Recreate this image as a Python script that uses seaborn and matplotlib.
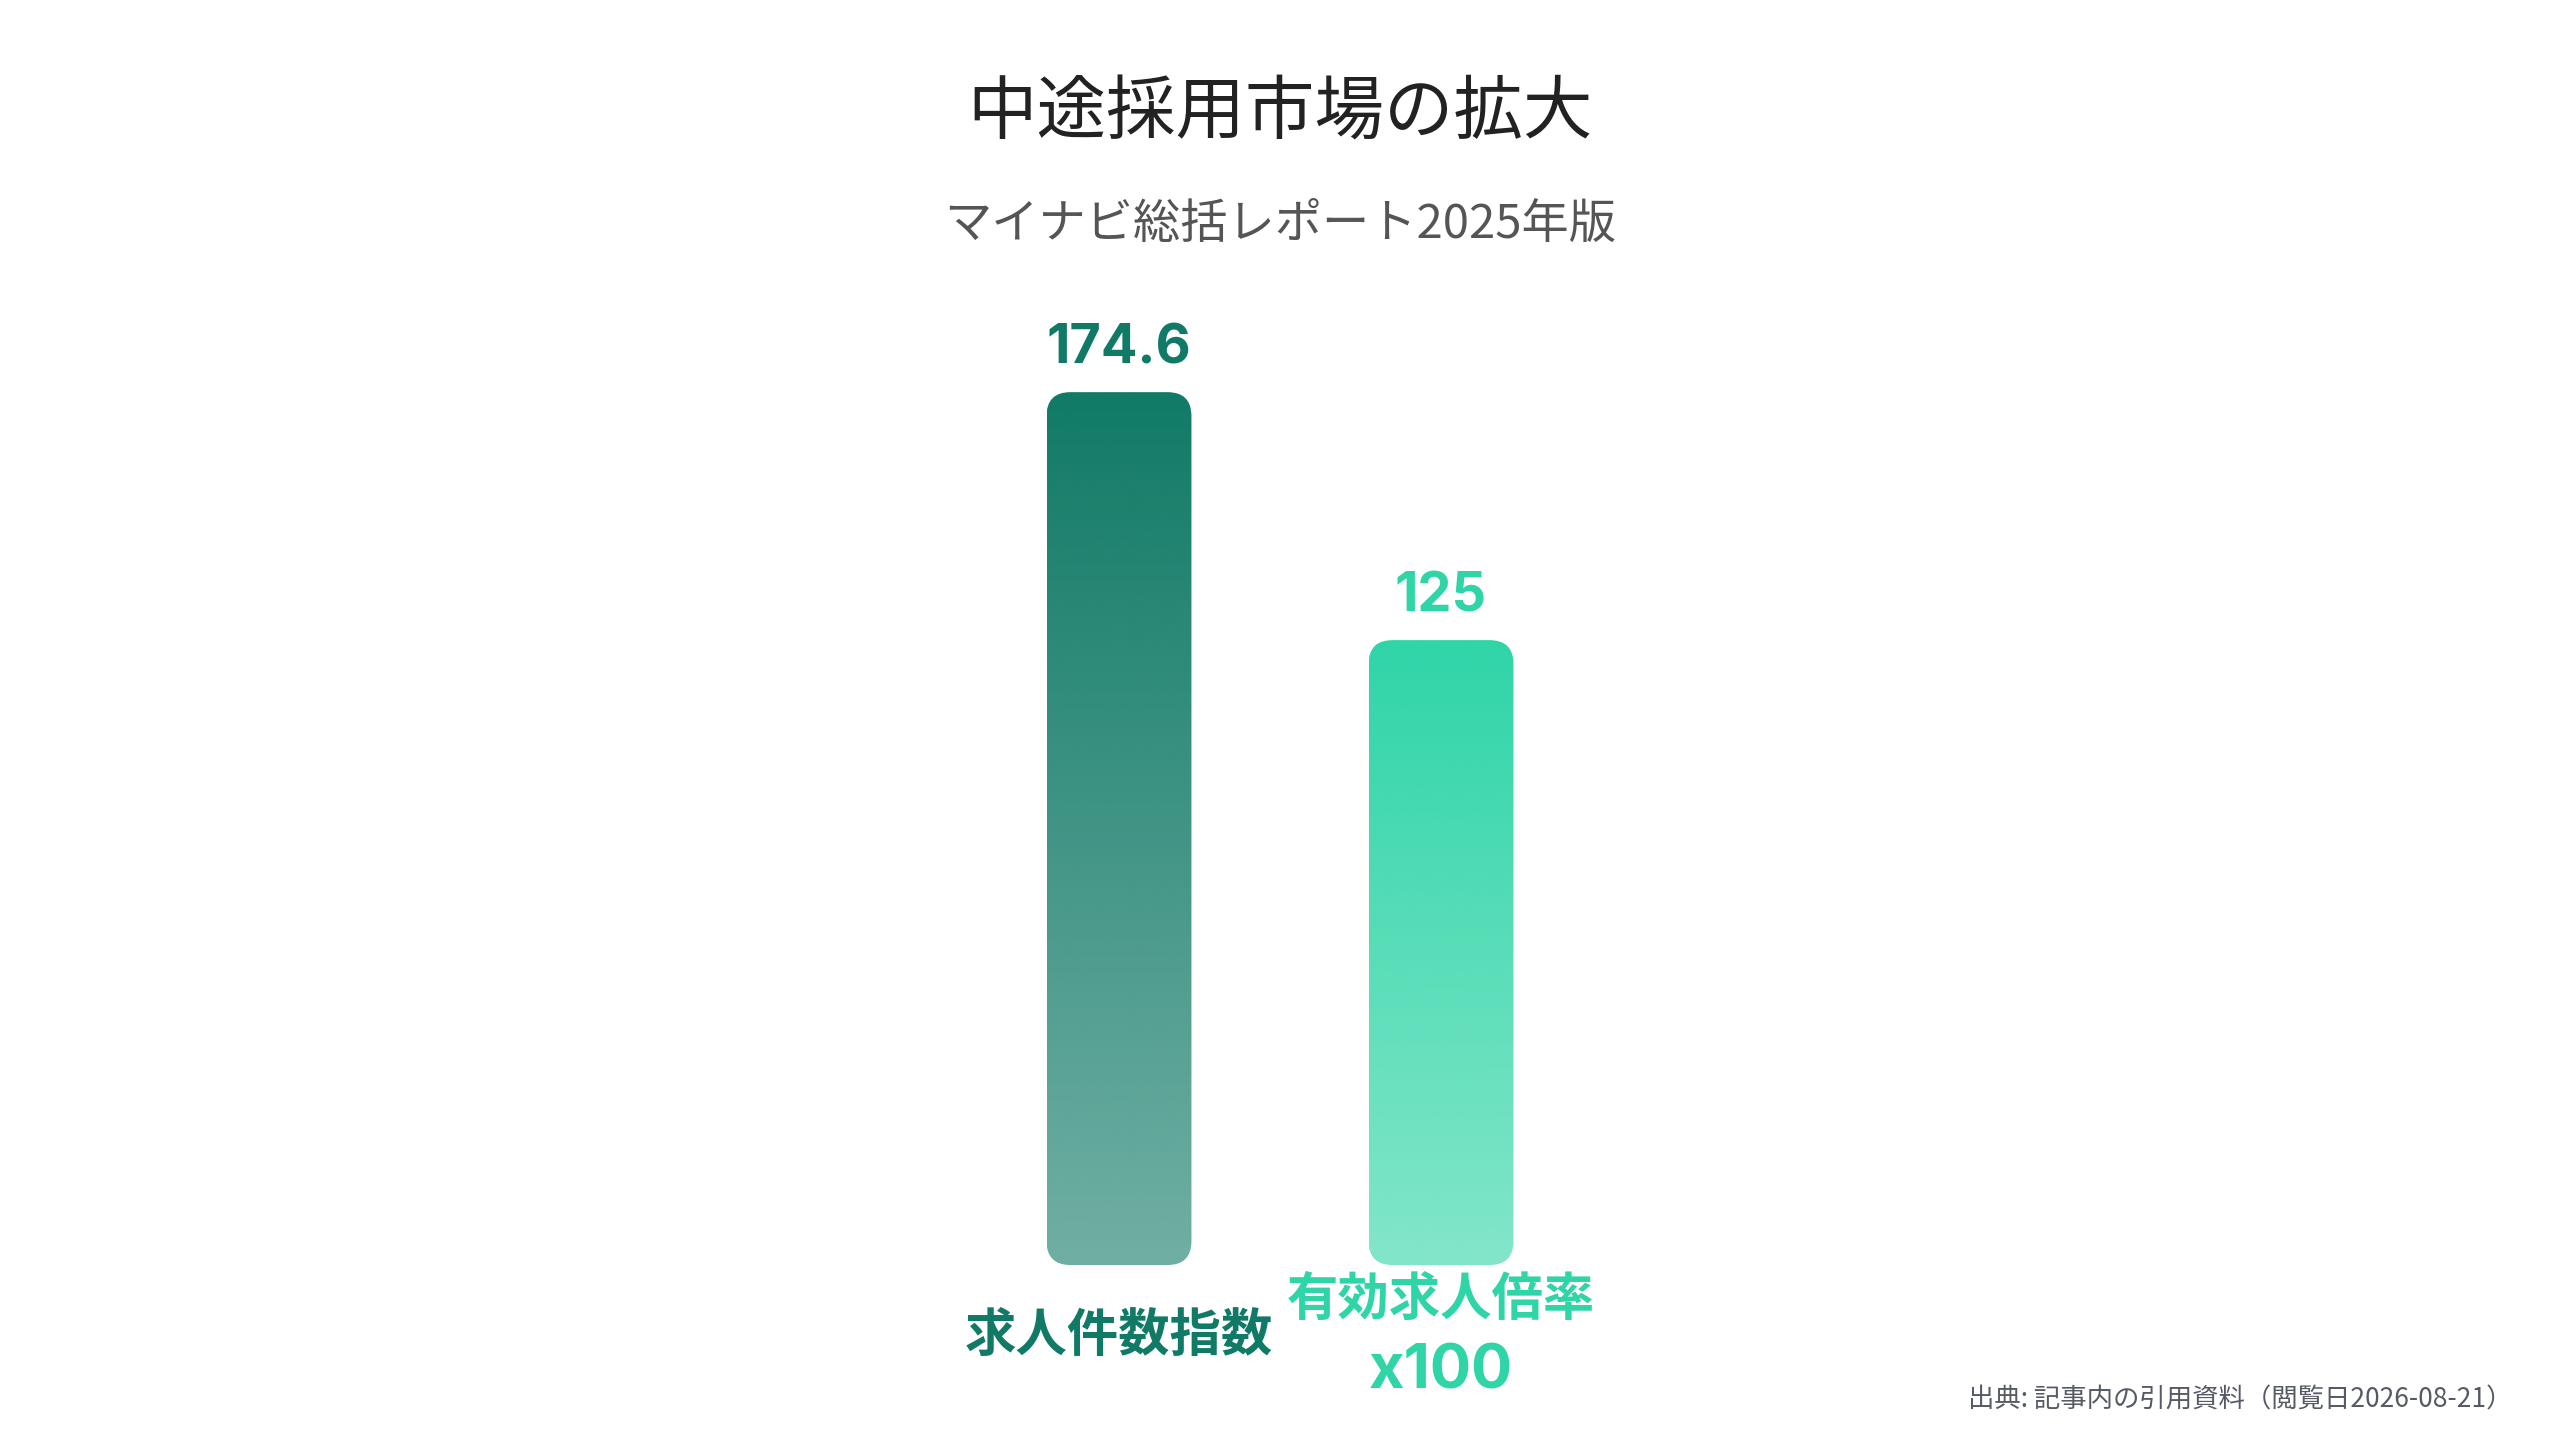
import numpy as np
import pandas as pd
import matplotlib
matplotlib.use("Agg")
import matplotlib.pyplot as plt
import seaborn as sns
from matplotlib.patches import FancyBboxPatch
from matplotlib.colors import to_rgb

# ---- data ----
categories = ["求人件数指数", "有効求人倍率\nx100"]
values = [174.6, 125]
value_labels = ["174.6", "125"]
bar_colors = ["#107a66", "#2fd5a7"]
title = "中途採用市場の拡大"
subtitle = "マイナビ総括レポート2025年版"
source = "出典: 記事内の引用資料（閲覧日2026-08-21）"

sns.set_theme(style="white")
plt.rcParams["font.family"] = ["Noto Sans CJK JP", "DejaVu Sans"]
mixed = ["Inter", "Noto Sans CJK JP", "DejaVu Sans"]

fig = plt.figure(figsize=(25.6, 14.4), dpi=100)
fig.patch.set_facecolor("white")
ax = fig.add_axes([0.3742, 0.1215, 0.2516, 0.677])

df = pd.DataFrame({"cat": categories, "val": values})
sns.barplot(data=df, x="cat", y="val", hue="cat", palette=bar_colors,
            width=0.45, legend=False, ax=ax)
ax.set_xlim(-0.5, 1.5)
ax.set_ylim(0, 195)

# units per pixel
bbox = ax.get_window_extent()
ux = (ax.get_xlim()[1] - ax.get_xlim()[0]) / bbox.width
uy = (ax.get_ylim()[1] - ax.get_ylim()[0]) / bbox.height
r_px = 24

patches = sorted(list(ax.patches), key=lambda p: p.get_x())
for p, col in zip(patches, bar_colors):
    x0, y0, w, h = p.get_x(), p.get_y(), p.get_width(), p.get_height()
    p.set_visible(False)
    rp = FancyBboxPatch((x0, y0), w, h,
                        boxstyle=f"round,pad=0,rounding_size={r_px * ux}",
                        mutation_aspect=uy / ux,
                        facecolor="none", edgecolor="none",
                        transform=ax.transData)
    ax.add_patch(rp)
    grad = np.zeros((256, 1, 4))
    grad[..., :3] = to_rgb(col)
    grad[:, 0, 3] = np.linspace(0.6, 1.0, 256)
    im = ax.imshow(grad, extent=[x0, x0 + w, y0, y0 + h], origin="lower",
                   aspect="auto", interpolation="bicubic", zorder=2)
    im.set_clip_path(rp)

ax.set_xlim(-0.5, 1.5)
ax.set_ylim(0, 195)

for i, (v, lbl, col) in enumerate(zip(values, value_labels, bar_colors)):
    ax.annotate(lbl, (i, v), xytext=(0, 31), textcoords="offset points",
                ha="center", va="center", fontsize=39, fontweight="bold",
                color=col, family=mixed)

# category labels under the bars (multi-line labels centred on one another)
ax.set_xticks(range(len(categories)))
ax.set_xticklabels([""] * len(categories))
ax.tick_params(axis="x", length=0)
center_off = 72   # px below the baseline
line_gap = 71     # px between lines
for i, (cat, col) in enumerate(zip(categories, bar_colors)):
    lines = cat.split("\n")
    n = len(lines)
    for j, line in enumerate(lines):
        off = -(center_off + (j - (n - 1) / 2) * line_gap)
        ax.annotate(line, (i, 0), xytext=(0, off), textcoords="offset pixels",
                    ha="center", va="center",
                    fontsize=44 if line.isascii() else 37,
                    fontweight="bold", color=col, family=mixed,
                    annotation_clip=False)

ax.set_xlabel("")
ax.set_ylabel("")
ax.set_yticks([])
sns.despine(ax=ax, left=True, bottom=True)
ax.set_facecolor("none")

fig.text(0.5, 1 - 114 / 1440, title, ha="center", va="center",
         fontsize=50, color="#222222")
fig.text(0.5, 1 - 225 / 1440, subtitle, ha="center", va="center",
         fontsize=34, color="#555555")
fig.text(2512 / 2560, 1 - 1400 / 1440, source, ha="right", va="center",
         fontsize=19, color="#555a64")

fig.savefig("out.png", dpi=100, facecolor="white")
